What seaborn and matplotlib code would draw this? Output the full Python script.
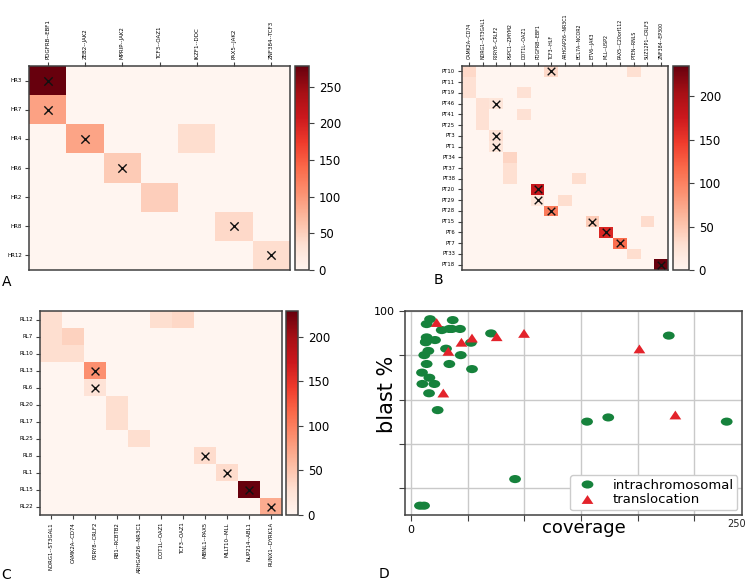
import numpy as np
import pandas as pd
import matplotlib
matplotlib.use("Agg")
import matplotlib.pyplot as plt
from matplotlib.path import Path
from matplotlib.transforms import Affine2D
import seaborn as sns

# ---------------- Panel A data ----------------
a_rows = ['HR3', 'HR7', 'HR4', 'HR6', 'HR2', 'HR8', 'HR12']
a_cols = ['PDGFRB--EBF1', 'ZEB2--JAK2', 'MPRIP--JAK2', 'TCF3--OAZ1',
          'IKZF1--DDC', 'PAX5--JAK2', 'ZNF384--TCF3']
a_cell_row = ['HR3', 'HR7', 'HR4', 'HR4', 'HR6', 'HR2', 'HR8', 'HR12']
a_cell_col = ['PDGFRB--EBF1', 'PDGFRB--EBF1', 'ZEB2--JAK2', 'IKZF1--DDC',
              'MPRIP--JAK2', 'TCF3--OAZ1', 'PAX5--JAK2', 'ZNF384--TCF3']
a_cell_val = [278, 92, 90, 38, 55, 52, 42, 38]
a_cell_mark = [1, 1, 1, 0, 1, 0, 1, 1]

# ---------------- Panel B data ----------------
b_rows = ['PT10', 'PT11', 'PT19', 'PT46', 'PT41', 'PT25', 'PT3', 'PT1', 'PT34',
          'PT37', 'PT38', 'PT20', 'PT29', 'PT28', 'PT15', 'PT6', 'PT7', 'PT33', 'PT18']
b_cols = ['CAMK2A--CD74', 'NDRG1--ST3GAL1', 'P2RY8--CRLF2', 'PSPC1--ZMYM2',
          'DOT1L--OAZ1', 'PDGFRB--EBF1', 'TCF3--HLF', 'ARHGAP26--NR3C1',
          'BCL7A--NCOR2', 'ETV6--JAK3', 'MLL--USP2', 'PAX5--C20orf112',
          'PTEN--RNLS', 'SUZ12P1--CRLF3', 'ZNF384--EP300']
b_cell_row = ['PT10', 'PT10', 'PT10', 'PT11', 'PT19', 'PT19', 'PT46', 'PT46',
              'PT41', 'PT41', 'PT25', 'PT3', 'PT1', 'PT34', 'PT37', 'PT38', 'PT38',
              'PT20', 'PT29', 'PT29', 'PT28', 'PT15', 'PT15', 'PT6', 'PT7', 'PT33', 'PT18']
b_cell_col = ['CAMK2A--CD74', 'TCF3--HLF', 'PTEN--RNLS', 'CAMK2A--CD74',
              'CAMK2A--CD74', 'DOT1L--OAZ1', 'NDRG1--ST3GAL1', 'P2RY8--CRLF2',
              'NDRG1--ST3GAL1', 'DOT1L--OAZ1', 'NDRG1--ST3GAL1', 'P2RY8--CRLF2',
              'P2RY8--CRLF2', 'PSPC1--ZMYM2', 'PSPC1--ZMYM2', 'PSPC1--ZMYM2',
              'BCL7A--NCOR2', 'PDGFRB--EBF1', 'PDGFRB--EBF1', 'ARHGAP26--NR3C1',
              'TCF3--HLF', 'ETV6--JAK3', 'SUZ12P1--CRLF3', 'MLL--USP2',
              'PAX5--C20orf112', 'PTEN--RNLS', 'ZNF384--EP300']
b_cell_val = [35, 35, 30, 28, 28, 28, 28, 22, 28, 28, 28, 28, 22, 38, 30, 30, 32,
              180, 22, 32, 105, 45, 33, 165, 115, 32, 235]
b_cell_mark = [0, 1, 0, 0, 0, 0, 0, 1, 0, 0, 0, 1, 1, 0, 0, 0, 0,
               1, 1, 0, 1, 1, 0, 1, 1, 0, 1]

# ---------------- Panel C data ----------------
c_rows = ['RL12', 'RL7', 'RL10', 'RL13', 'RL6', 'RL20', 'RL17', 'RL25', 'RL8',
          'RL1', 'RL15', 'RL22']
c_cols = ['NDRG1--ST3GAL1', 'CAMK2A--CD74', 'P2RY8--CRLF2', 'RB1--RCBTB2',
          'ARHGAP26--NR3C1', 'DOT1L--OAZ1', 'TCF3--OAZ1', 'MBNL1--PAX5',
          'MLLT10--MLL', 'NUP214--ABL1', 'RUNX1--DYRK1A']
c_cell_row = ['RL12', 'RL12', 'RL12', 'RL7', 'RL7', 'RL10', 'RL10', 'RL13', 'RL6',
              'RL20', 'RL17', 'RL25', 'RL8', 'RL1', 'RL15', 'RL22']
c_cell_col = ['NDRG1--ST3GAL1', 'DOT1L--OAZ1', 'TCF3--OAZ1', 'NDRG1--ST3GAL1',
              'CAMK2A--CD74', 'NDRG1--ST3GAL1', 'CAMK2A--CD74', 'P2RY8--CRLF2',
              'P2RY8--CRLF2', 'RB1--RCBTB2', 'RB1--RCBTB2', 'ARHGAP26--NR3C1',
              'MBNL1--PAX5', 'MLLT10--MLL', 'NUP214--ABL1', 'RUNX1--DYRK1A']
c_cell_val = [30, 30, 35, 30, 40, 30, 30, 88, 25, 30, 30, 30, 32, 32, 229, 68]
c_cell_mark = [0, 0, 0, 0, 0, 0, 0, 1, 1, 0, 0, 0, 1, 1, 1, 1]

# ---------------- Panel D data ----------------
intra_coverage = [16.8, 13.8, 36.8, 27.1, 33.8, 36.0, 43.2, 13.8, 13.2, 13.0, 21.2,
                  30.9, 15.3, 11.7, 43.9, 52.9, 70.6, 13.8, 33.8, 53.8, 9.7, 16.2,
                  10.0, 20.6, 15.9, 23.5, 91.8, 7.9, 11.5, 155.3, 174.0, 227.4, 278.5]
intra_blast = [96.3, 94.1, 95.9, 91.4, 91.9, 91.9, 91.9, 88.1, 86.2, 85.9, 86.9,
               83.0, 82.0, 80.1, 80.1, 85.7, 89.9, 76.1, 76.1, 73.8, 72.2, 69.9,
               67.1, 67.1, 62.9, 55.3, 24.2, 12.2, 12.2, 50.1, 52.0, 88.9, 50.1]
trans_coverage = [22.6, 28.5, 32.9, 44.5, 53.8, 75.6, 99.7, 201.5, 233.2]
trans_blast = [94.8, 63.0, 81.8, 85.9, 87.8, 88.4, 89.9, 82.9, 53.1]
type_labels = ['intrachromosomal', 'translocation']

W, H = 750, 583


def box(l, t, r, b):
    return [l / W, 1 - b / H, (r - l) / W, (b - t) / H]


def build(rows, cols, cr, cc, cv):
    mat = pd.DataFrame(0.0, index=rows, columns=cols)
    for r, c, v in zip(cr, cc, cv):
        mat.loc[r, c] = v
    return mat


fig = plt.figure(figsize=(7.5, 5.83), dpi=100)
SP = '#404040'


def draw_heat(mat, cr, cc, cm, hbox, cbox, top, xfs, yfs, ms):
    ax = fig.add_axes(box(*hbox))
    cax = fig.add_axes(box(*cbox))
    sns.heatmap(mat, ax=ax, cbar_ax=cax, cmap='Reds', vmin=0,
                xticklabels=True, yticklabels=True)
    # cross marks on the marked cells (cell centres on the heatmap's own grid)
    rows = list(mat.index)
    cols = list(mat.columns)
    mx = [cols.index(c) + 0.5 for c, m in zip(cc, cm) if m]
    my = [rows.index(r) + 0.5 for r, m in zip(cr, cm) if m]
    ax.scatter(mx, my, marker='x', s=ms, color='#111111', linewidths=1.0, zorder=4)
    for s in ax.spines.values():
        s.set_visible(True)
        s.set_color(SP)
        s.set_linewidth(1.1)
    if top:
        ax.xaxis.tick_top()
    ax.tick_params(axis='x', labelrotation=90, labelsize=xfs, length=3,
                   width=0.8, color=SP, pad=2)
    ax.tick_params(axis='y', labelrotation=0, labelsize=yfs, length=3,
                   width=0.8, color=SP, pad=2)
    ax.set_xlabel('')
    ax.set_ylabel('')
    cb = ax.collections[0].colorbar
    cb.outline.set_linewidth(1.1)
    cb.outline.set_edgecolor(SP)
    cax.tick_params(labelsize=8.5, length=3.5, width=0.8, color=SP)
    return ax


ma = build(a_rows, a_cols, a_cell_row, a_cell_col, a_cell_val)
mb = build(b_rows, b_cols, b_cell_row, b_cell_col, b_cell_val)
mc = build(c_rows, c_cols, c_cell_row, c_cell_col, c_cell_val)

draw_heat(ma, a_cell_row, a_cell_col, a_cell_mark,
          (29, 66, 290, 270), (295, 66, 309, 270), True, 4.0, 4.0, 36)
draw_heat(mb, b_cell_row, b_cell_col, b_cell_mark,
          (462, 66, 668, 270), (673, 66, 689, 270), True, 3.4, 3.8, 30)
draw_heat(mc, c_cell_row, c_cell_col, c_cell_mark,
          (40, 311, 282, 515), (286, 311, 298, 515), False, 3.9, 4.0, 32)

# ---------------- Panel D ----------------
axd = fig.add_axes(box(405, 311, 742, 515))
df = pd.DataFrame({
    'coverage': intra_coverage + trans_coverage,
    'blast': intra_blast + trans_blast,
    'type': [type_labels[0]] * len(intra_coverage) + [type_labels[1]] * len(trans_coverage),
})
ellipse = Path.unit_circle().transformed(Affine2D().scale(1.45, 1.0))
tri = Path([(0, 0.75), (-1.0, -0.75), (1.0, -0.75), (0, 0.75)],
           [Path.MOVETO, Path.LINETO, Path.LINETO, Path.CLOSEPOLY])
GREEN = '#16823c'
RED = '#e3232b'
sns.scatterplot(data=df, x='coverage', y='blast', hue='type', style='type',
                palette={type_labels[0]: GREEN, type_labels[1]: RED},
                markers={type_labels[0]: ellipse, type_labels[1]: tri},
                s=72, linewidth=0, ax=axd, zorder=3)
axd.set_xlim(-5.3, 292)
axd.set_ylim(8, 100)
axd.set_xticks([0, 50, 100, 150, 200, 250])
axd.set_xticklabels(['0', '', '', '', '', ''])
axd.set_yticks([20, 40, 60, 80, 100])
axd.set_yticklabels(['', '', '', '', '100'])
axd.tick_params(labelsize=8, length=4, width=0.8, color=SP)
axd.grid(True, color='#c9c9c9', linewidth=1.0, zorder=0)
axd.set_axisbelow(True)
for s in axd.spines.values():
    s.set_color(SP)
    s.set_linewidth(1.1)
axd.text(0.985, -0.02, '250', transform=axd.transAxes, ha='center', va='top',
         fontsize=7, color='#222222')
axd.set_xlabel('coverage', fontsize=13)
axd.set_ylabel('blast %', fontsize=15)
axd.xaxis.set_label_coords(0.53, -0.02)
axd.yaxis.set_label_coords(-0.024, 0.59)
h, l = axd.get_legend_handles_labels()
axd.legend(h, l, loc='lower right', fontsize=9.5, frameon=True,
           borderaxespad=0.35, borderpad=0.3, labelspacing=0.1,
           handletextpad=0.9, edgecolor='#cccccc',
           framealpha=1, fancybox=True)

# panel letters
for letter, x, y in [('A', 7, 282), ('B', 438, 280), ('C', 6, 575), ('D', 384, 574)]:
    fig.text(x / W, 1 - y / H, letter, ha='center', va='center', fontsize=10)

fig.savefig('out.png', dpi=100)
